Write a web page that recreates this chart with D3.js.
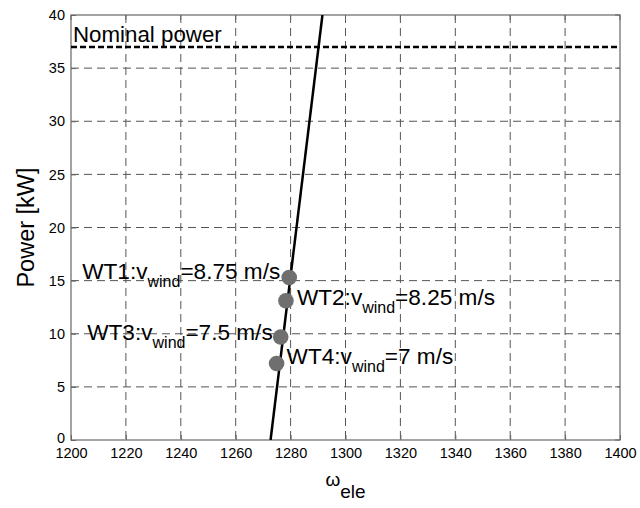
<!DOCTYPE html>
<html>
<head>
<meta charset="utf-8">
<script src="https://cdn.jsdelivr.net/npm/d3@7"></script>
<style>
  html, body { margin: 0; padding: 0; background: #fff; }
  svg { display: block; font-family: "Liberation Sans", Arial, sans-serif; }
</style>
</head>
<body>
<svg id="chart" width="640" height="508"></svg>
<script>
// ---- data ----
const xTicks = [1200, 1220, 1240, 1260, 1280, 1300, 1320, 1340, 1360, 1380, 1400];
const yTicks = [0, 5, 10, 15, 20, 25, 30, 35, 40];
const lineOmega = [1272.7, 1291.6];
const linePower = [0, 40];
const nominalPower = 37;
const turbines = ["WT1", "WT2", "WT3", "WT4"];
const windSpeeds = ["8.75", "8.25", "7.5", "7"];
const turbineOmega = [1279.5, 1278.3, 1276.4, 1274.9];
const turbinePower = [15.3, 13.1, 9.7, 7.2];

// ---- layout ----
const L = 71, R = 620, T = 15, B = 440;
const labelLayout = [
  { anchor: "end", dx: -9, dy: 2 },
  { anchor: "start", dx: 11, dy: 4 },
  { anchor: "end", dx: -8, dy: 3 },
  { anchor: "start", dx: 10, dy: 0 }
];

const svg = d3.select("#chart");
const x = d3.scaleLinear().domain([1200, 1400]).range([L, R]);
const y = d3.scaleLinear().domain([0, 40]).range([B, T]);

svg.append("defs").append("clipPath").attr("id", "clip")
  .append("rect").attr("x", L).attr("y", T).attr("width", R - L).attr("height", B - T);

// grid
const grid = svg.append("g");
grid.selectAll("line.v").data(xTicks.slice(1, -1)).join("line")
  .attr("x1", d => x(d)).attr("x2", d => x(d)).attr("y1", T).attr("y2", B)
  .attr("stroke", "#555").attr("stroke-width", 1).attr("stroke-dasharray", "8,5");
grid.selectAll("line.h").data(yTicks.slice(1, -1)).join("line")
  .attr("y1", d => y(d)).attr("y2", d => y(d)).attr("x1", L).attr("x2", R)
  .attr("stroke", "#555").attr("stroke-width", 1).attr("stroke-dasharray", "8,5");

// axes
const xAxis = d3.axisBottom(x).tickValues(xTicks).tickSize(-5).tickPadding(8).tickFormat(d3.format("d"));
const yAxis = d3.axisLeft(y).tickValues(yTicks).tickSize(-5).tickPadding(6).tickFormat(d3.format("d"));
const gx = svg.append("g").attr("transform", `translate(0,${B})`).call(xAxis);
const gy = svg.append("g").attr("transform", `translate(${L},0)`).call(yAxis);
[gx, gy].forEach(g => {
  g.select(".domain").remove();
  g.selectAll(".tick line").attr("stroke", "#666");
  g.selectAll(".tick text").attr("font-size", 14.5).attr("fill", "#000")
    .attr("font-family", "Liberation Sans, Arial, sans-serif");
});
gy.selectAll(".tick text").filter(d => d === 0).attr("dy", "0.2em");
// top/right ticks
svg.append("g").selectAll("line").data(xTicks).join("line")
  .attr("x1", d => x(d)).attr("x2", d => x(d)).attr("y1", T).attr("y2", T + 5).attr("stroke", "#666");
svg.append("g").selectAll("line").data(yTicks).join("line")
  .attr("y1", d => y(d)).attr("y2", d => y(d)).attr("x1", R).attr("x2", R - 5).attr("stroke", "#666");

// box
svg.append("rect").attr("x", L).attr("y", T).attr("width", R - L).attr("height", B - T)
  .attr("fill", "none").attr("stroke", "#666").attr("stroke-width", 1.2);

// nominal power
svg.append("line").attr("x1", L).attr("x2", R).attr("y1", y(nominalPower)).attr("y2", y(nominalPower))
  .attr("stroke", "#000").attr("stroke-width", 2.5).attr("stroke-dasharray", "6,3");
svg.append("text").attr("x", L + 2).attr("y", y(nominalPower) - 5)
  .attr("font-size", 22.3).text("Nominal power");

// main line
const lineData = lineOmega.map((o, i) => [o, linePower[i]]);
svg.append("path").datum(lineData).attr("clip-path", "url(#clip)")
  .attr("d", d3.line().x(d => x(d[0])).y(d => y(d[1])))
  .attr("fill", "none").attr("stroke", "#000").attr("stroke-width", 2.5);

// points
svg.append("g").selectAll("circle").data(turbines).join("circle")
  .attr("cx", (d, i) => x(turbineOmega[i])).attr("cy", (d, i) => y(turbinePower[i]))
  .attr("r", 7.8).attr("fill", "#6f6f6f");

// labels
turbines.forEach((t, i) => {
  const lay = labelLayout[i];
  const tx = svg.append("text")
    .attr("x", x(turbineOmega[i]) + lay.dx).attr("y", y(turbinePower[i]) + lay.dy)
    .attr("text-anchor", lay.anchor).attr("font-size", 22.6);
  tx.append("tspan").text(t + ":v");
  tx.append("tspan").attr("font-size", 16).attr("dy", 8).text("wind");
  tx.append("tspan").attr("dy", -8).text("=" + windSpeeds[i] + " m/s");
});

// axis titles
svg.append("text").attr("transform", `translate(34,${(T + B) / 2}) rotate(-90)`)
  .attr("text-anchor", "middle").attr("font-size", 23.5).text("Power [kW]");
const xl = svg.append("text").attr("x", (L + R) / 2).attr("y", 486).attr("text-anchor", "middle").attr("font-size", 19);
xl.append("tspan").text("\u03C9");
xl.append("tspan").attr("dy", 12).text("ele");
</script>
</body>
</html>
